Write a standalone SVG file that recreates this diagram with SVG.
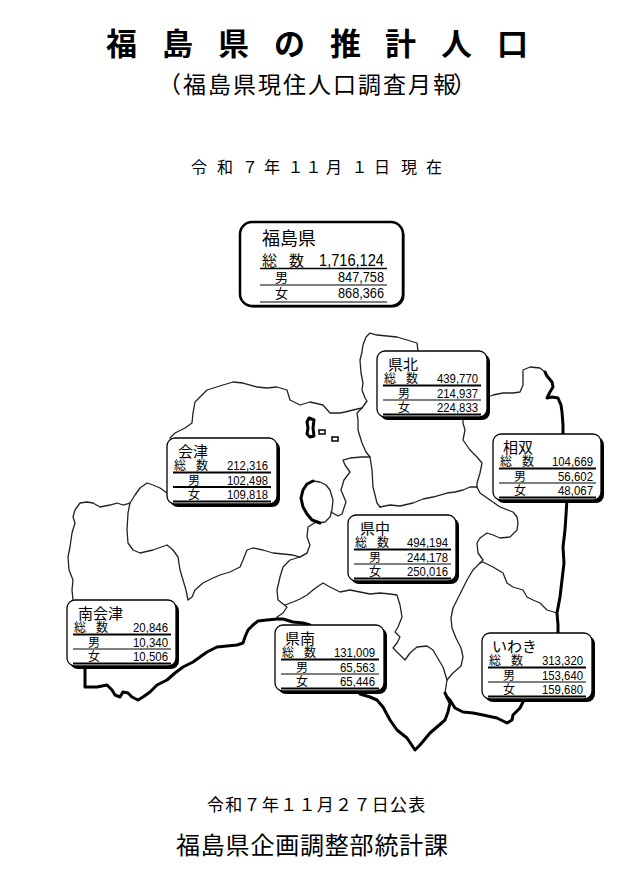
<svg xmlns="http://www.w3.org/2000/svg" width="638" height="884" viewBox="0 0 638 884">
<style>
.j{font-family:"Noto Sans CJK JP","Noto Sans CJK SC",sans-serif;fill:#000}
.n{font-family:"Liberation Sans",Arial,sans-serif;fill:#000}
.thin{fill:none;stroke:#222;stroke-width:1.3;stroke-linejoin:round;stroke-linecap:round}
.thick{fill:none;stroke:#000;stroke-width:3;stroke-linejoin:round;stroke-linecap:round}
.sh{fill:#000}
.bx{fill:#fff;stroke:#000;stroke-width:1.3}
.ttl{font-size:15px}
.lb{font-size:12px}
.num{font-size:13.5px}
.tk{stroke:#000;stroke-width:1.8}
.tn{stroke:#000;stroke-width:1}
</style>
<rect width="638" height="884" fill="#fff"/>

<g id="title">
<text class="j" font-size="31" font-weight="bold" y="55" x="106 162 218 274 330 385 441 497">福島県の推計人口</text>
<text class="j" font-size="23" y="93" x="158 183 208 233 258 283 308 333 358 383 408 433 453">（福島県現住人口調査月報）</text>
<text class="j" font-size="16" y="173" x="191 217 242 264 287.5 305.5 326 351.5 374 401 426">令和７年１１月１日現在</text>
</g>

<g id="map">
<path class="thin" d="M418,351 L417,343 L397,337 L377,335 L370,333 L366,337 L363,345 L362,352 L360,360 L361,373 L363,383 L362,390 L365,398 L367,401 L362,408 L357,413 L358,420 L358,430 L362,443 L366,452 L370,457 L372,470 L373,487 L377,503 L380,507"/>
<path class="thin" d="M362,408 L353,410 L345,412 L340,413 L330,413 L323,405 L310,402 L300,405 L290,400 L287,390 L277,387 L267,388 L257,387 L243,383 L233,382 L223,385 L207,390 L200,397 L195,402 L193,413 L192,423 L185,428 L175,433 L170,438"/>
<path class="thin" d="M167,493 L160,488 L153,485 L147,483 L140,488 L135,495 L130,503 L123,505 L117,503 L110,505 L100,507 L93,503 L87,502 L80,503 L75,510 L73,517 L75,523 L72,533 L70,547 L68,557 L69,570 L73,580 L72,590 L73,600"/>
<path class="thin" d="M130,503 L128,513 L127,530 L128,543 L133,550 L140,553 L153,550 L167,545 L173,550 L178,557 L180,570 L183,580 L186,590 L188,600 L192,597 L195,590 L203,583 L213,578 L220,575 L230,572 L240,567 L243,560 L247,550 L253,548 L263,550 L273,553 L293,555 L300,557 L307,553"/>
<path class="thin" d="M316,522 L308,527 L307,537 L310,545 L307,553 L300,557 L290,560 L283,567 L280,577 L277,590 L278,600 L287,607 L283,613 L277,617 L280,620"/>
<path class="thin" d="M331,512 L338,516 L342,514 L346,502 L341,490 L344,480 L350,472 L345,465 L343,460 L350,458 L362,457 L370,457"/>
<path class="thin" d="M285,605 L293,602 L300,599 L307,595 L313,590 L317,587 L323,583 L330,587 L340,592 L350,590 L360,592 L370,594 L380,593 L390,594 L397,595 L400,605 L402,617 L398,627 L395,632 L400,637 L397,643 L393,648 L398,653 L405,660 L410,653 L417,647 L427,646 L433,650 L437,657 L443,667 L447,680 L445,693"/>
<path class="thin" d="M480,563 L473,570 L467,580 L462,590 L457,600 L453,608 L451,618 L452,628 L456,638 L461,648 L463,657 L461,666 L453,673 L447,680"/>
<path class="thin" d="M480,563 L483,562 L493,567 L503,573 L507,583 L513,587 L523,590 L527,597 L533,600 L540,603 L547,610 L557,613"/>
<path class="thin" d="M477,487 L480,493 L490,500 L500,507 L513,512 L517,517 L518,523 L517,530 L510,537 L500,538 L493,535 L487,533 L480,538 L477,543 L478,553 L483,560 L480,563"/>
<path class="thin" d="M463,417 L463,423 L465,430 L463,440 L470,450 L477,457 L482,463 L480,473 L477,483 L477,487"/>
<path class="thin" d="M380,507 L390,505 L400,506 L413,503 L423,499 L433,497 L447,493 L455,492 L463,490 L470,487 L477,487"/>
<path class="thin" d="M488,397 L493,395 L503,393 L513,393 L520,392 L523,385 L523,378 L523,370 L530,367 L540,368 L545,372"/>
<path class="thin" d="M303,490 L307,484 L313,481 L320,482 L326,485 L330,490 L333,500 L332,510 L330,517 L325,522 L318,523 L312,520 L307,514 L303,507 L301,498 Z"/>
<path class="thick" d="M320,523 L312,520 L307,514 L303,507 L301,498 L303,490 L307,484 L313,481"/>
<path class="thick" stroke-width="2.4" d="M309,418 L307,422 L308,428 L307,434 L310,437 L314,436 L313,428 L314,420 Z"/>
<rect x="319" y="430" width="6" height="4" fill="none" stroke="#000" stroke-width="1.5"/>
<rect x="332" y="437" width="6" height="4" fill="none" stroke="#000" stroke-width="1.5"/>
<path class="thick" d="M545,372 L547,376 L552,382 L553,387 L550,392 L547,398 L552,397 L558,398 L561,405 L562,412 L563,425 L563,436"/>
<path class="thick" d="M567,499 L566,515 L565,530 L563,547 L564,563 L562,580 L560,597 L557,613 L558,625 L558,634"/>
<path class="thick" d="M85,668 L85,687 L97,687 L107,685 L112,690 L115,695 L120,697 L123,692 L128,693 L132,697 L138,700 L143,697 L150,692 L157,685 L167,680 L175,673 L183,667 L193,662 L200,657 L207,652 L217,647 L227,646 L237,645 L243,643 L245,637 L248,630 L253,625 L258,621 L267,620 L277,619 L283,619 L293,622 L303,623 L310,625"/>
<path class="thick" d="M360,694 L370,697 L377,700 L383,707 L390,720 L397,730 L407,738 L415,750 L420,745 L430,733 L437,727 L445,720 L448,712 L450,703 L447,697 L445,693"/>
<path class="thick" d="M447,697 L450,700 L455,708 L463,712 L473,713 L483,715 L497,718 L507,723 L512,720 L513,715 L520,708 L523,702"/>
</g>

<g id="fukushima">
<rect x="241.5" y="223.5" width="163" height="84" rx="12" fill="#000"/>
<rect x="240" y="222" width="163" height="84" rx="12" fill="#fff" stroke="#000" stroke-width="2.5"/>
<text class="j" font-size="18" x="262" y="245">福島県</text>
<text class="j" font-size="15" x="262 289" y="266">総数</text>
<text class="n" font-size="16.5" x="384" y="266" text-anchor="end" textLength="65" lengthAdjust="spacingAndGlyphs">1,716,124</text>
<line x1="260" y1="268.5" x2="387" y2="268.5" stroke="#000" stroke-width="1.3"/>
<text class="j" font-size="13" x="275" y="282">男</text>
<text class="n" font-size="14.5" x="384" y="282" text-anchor="end" textLength="46" lengthAdjust="spacingAndGlyphs">847,758</text>
<line x1="260" y1="285" x2="387" y2="285" stroke="#000" stroke-width="1.1"/>
<text class="j" font-size="13" x="275" y="298">女</text>
<text class="n" font-size="14.5" x="384" y="298" text-anchor="end" textLength="46" lengthAdjust="spacingAndGlyphs">868,366</text>
<line x1="260" y1="302" x2="387" y2="302" stroke="#000" stroke-width="1.1"/>
</g>

<g id="kenpoku" transform="translate(377,351)">
<rect class="sh" x="3" y="3" width="110" height="66" rx="8"/>
<rect class="bx" width="110" height="66" rx="8"/>
<text class="j ttl" x="11" y="18.5">県北</text>
<text class="j lb" x="7 29" y="32">総数</text>
<text class="n num" x="101" y="32" text-anchor="end" textLength="41" lengthAdjust="spacingAndGlyphs">439,770</text>
<line class="tk" x1="6" y1="34.5" x2="104" y2="34.5"/>
<text class="j lb" x="21" y="46.5">男</text>
<text class="n num" x="101" y="46.5" text-anchor="end" textLength="41" lengthAdjust="spacingAndGlyphs">214,937</text>
<line class="tn" x1="6" y1="49" x2="104" y2="49"/>
<text class="j lb" x="21" y="61">女</text>
<text class="n num" x="101" y="61" text-anchor="end" textLength="41" lengthAdjust="spacingAndGlyphs">224,833</text>
<line class="tk" x1="6" y1="63.5" x2="104" y2="63.5"/>
</g>

<g id="soso" transform="translate(493,434)">
<rect class="sh" x="3" y="3" width="108" height="66" rx="8"/>
<rect class="bx" width="108" height="66" rx="8"/>
<text class="j ttl" x="10" y="18.5">相双</text>
<text class="j lb" x="7 29" y="32">総数</text>
<text class="n num" x="100" y="32" text-anchor="end" textLength="41" lengthAdjust="spacingAndGlyphs">104,669</text>
<line class="tk" x1="6" y1="34.5" x2="103" y2="34.5"/>
<text class="j lb" x="21" y="46.5">男</text>
<text class="n num" x="100" y="46.5" text-anchor="end" textLength="35" lengthAdjust="spacingAndGlyphs">56,602</text>
<line class="tn" x1="6" y1="49" x2="103" y2="49"/>
<text class="j lb" x="21" y="61">女</text>
<text class="n num" x="100" y="61" text-anchor="end" textLength="35" lengthAdjust="spacingAndGlyphs">48,067</text>
<line class="tk" x1="6" y1="63.5" x2="103" y2="63.5"/>
</g>

<g id="aizu" transform="translate(167,438)">
<rect class="sh" x="3" y="3" width="110" height="66" rx="8"/>
<rect class="bx" width="110" height="66" rx="8"/>
<text class="j ttl" x="11" y="18.5">会津</text>
<text class="j lb" x="7 29" y="32">総数</text>
<text class="n num" x="101" y="32" text-anchor="end" textLength="41" lengthAdjust="spacingAndGlyphs">212,316</text>
<line class="tk" x1="6" y1="34.5" x2="104" y2="34.5"/>
<text class="j lb" x="21" y="46.5">男</text>
<text class="n num" x="101" y="46.5" text-anchor="end" textLength="41" lengthAdjust="spacingAndGlyphs">102,498</text>
<line class="tk" x1="6" y1="49" x2="104" y2="49"/>
<text class="j lb" x="21" y="61">女</text>
<text class="n num" x="101" y="61" text-anchor="end" textLength="41" lengthAdjust="spacingAndGlyphs">109,818</text>
<line class="tk" x1="6" y1="63.5" x2="104" y2="63.5"/>
</g>

<g id="kenchu" transform="translate(348,515)">
<rect class="sh" x="3" y="3" width="108" height="66" rx="8"/>
<rect class="bx" width="108" height="66" rx="8"/>
<text class="j ttl" x="12" y="18.5">県中</text>
<text class="j lb" x="7 29" y="32">総数</text>
<text class="n num" x="100" y="32" text-anchor="end" textLength="41" lengthAdjust="spacingAndGlyphs">494,194</text>
<line class="tk" x1="6" y1="34.5" x2="103" y2="34.5"/>
<text class="j lb" x="21" y="46.5">男</text>
<text class="n num" x="100" y="46.5" text-anchor="end" textLength="41" lengthAdjust="spacingAndGlyphs">244,178</text>
<line class="tn" x1="6" y1="49" x2="103" y2="49"/>
<text class="j lb" x="21" y="61">女</text>
<text class="n num" x="100" y="61" text-anchor="end" textLength="41" lengthAdjust="spacingAndGlyphs">250,016</text>
<line class="tk" x1="6" y1="63.5" x2="103" y2="63.5"/>
</g>

<g id="minamiaizu" transform="translate(67,600)">
<rect class="sh" x="3" y="3" width="109" height="66" rx="8"/>
<rect class="bx" width="109" height="66" rx="8"/>
<text class="j ttl" x="11" y="18.5">南会津</text>
<text class="j lb" x="7 29" y="32">総数</text>
<text class="n num" x="101" y="32" text-anchor="end" textLength="35" lengthAdjust="spacingAndGlyphs">20,846</text>
<line class="tk" x1="6" y1="34.5" x2="104" y2="34.5"/>
<text class="j lb" x="21" y="46.5">男</text>
<text class="n num" x="101" y="46.5" text-anchor="end" textLength="35" lengthAdjust="spacingAndGlyphs">10,340</text>
<line class="tn" x1="6" y1="49" x2="104" y2="49"/>
<text class="j lb" x="21" y="61">女</text>
<text class="n num" x="101" y="61" text-anchor="end" textLength="35" lengthAdjust="spacingAndGlyphs">10,506</text>
<line class="tk" x1="6" y1="63.5" x2="104" y2="63.5"/>
</g>

<g id="kennan" transform="translate(275,625)">
<rect class="sh" x="3" y="3" width="109" height="66" rx="8"/>
<rect class="bx" width="109" height="66" rx="8"/>
<text class="j ttl" x="10" y="18.5">県南</text>
<text class="j lb" x="7 29" y="32">総数</text>
<text class="n num" x="100" y="32" text-anchor="end" textLength="41" lengthAdjust="spacingAndGlyphs">131,009</text>
<line class="tk" x1="6" y1="34.5" x2="104" y2="34.5"/>
<text class="j lb" x="21" y="46.5">男</text>
<text class="n num" x="100" y="46.5" text-anchor="end" textLength="35" lengthAdjust="spacingAndGlyphs">65,563</text>
<line class="tn" x1="6" y1="49" x2="104" y2="49"/>
<text class="j lb" x="21" y="61">女</text>
<text class="n num" x="100" y="61" text-anchor="end" textLength="35" lengthAdjust="spacingAndGlyphs">65,446</text>
<line class="tk" x1="6" y1="63.5" x2="104" y2="63.5"/>
</g>

<g id="iwaki" transform="translate(482,633)">
<rect class="sh" x="3" y="3" width="110" height="66" rx="8"/>
<rect class="bx" width="110" height="66" rx="8"/>
<text class="j ttl" x="10" y="18.5">いわき</text>
<text class="j lb" x="7 29" y="32">総数</text>
<text class="n num" x="101" y="32" text-anchor="end" textLength="41" lengthAdjust="spacingAndGlyphs">313,320</text>
<line class="tk" x1="6" y1="34.5" x2="104" y2="34.5"/>
<text class="j lb" x="21" y="46.5">男</text>
<text class="n num" x="101" y="46.5" text-anchor="end" textLength="41" lengthAdjust="spacingAndGlyphs">153,640</text>
<line class="tn" x1="6" y1="49" x2="104" y2="49"/>
<text class="j lb" x="21" y="61">女</text>
<text class="n num" x="101" y="61" text-anchor="end" textLength="41" lengthAdjust="spacingAndGlyphs">159,680</text>
<line class="tk" x1="6" y1="63.5" x2="104" y2="63.5"/>
</g>

<g id="footer">
<text class="j" font-size="17" x="207" y="811" letter-spacing="1.3">令和７年１１月２７日公表</text>
<text class="j" font-size="24" x="176" y="854" letter-spacing="0.8">福島県企画調整部統計課</text>
</g>
</svg>
